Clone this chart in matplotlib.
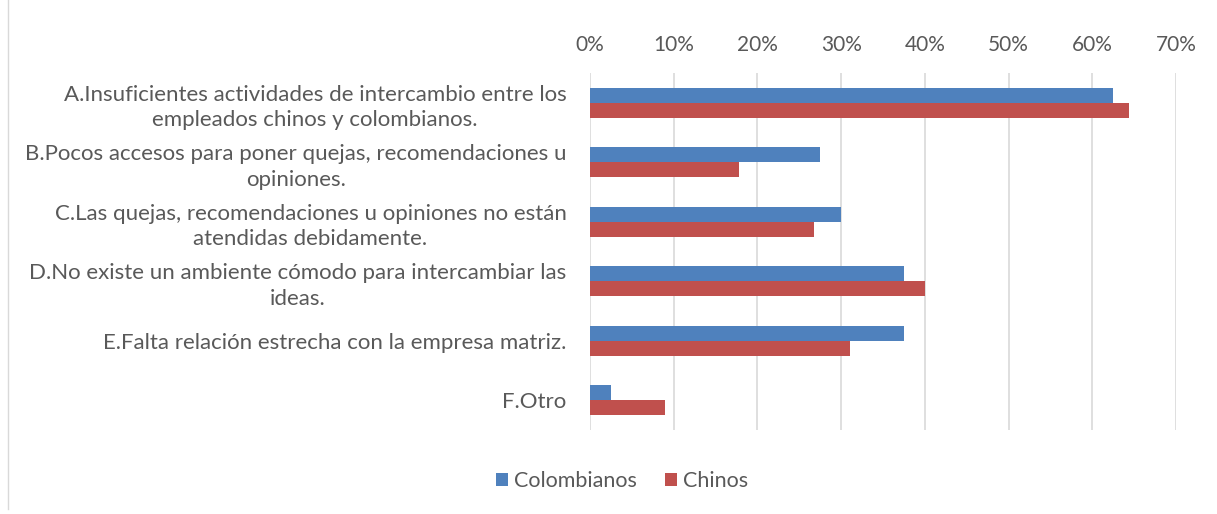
import numpy as np
import matplotlib
matplotlib.use("Agg")
import matplotlib.pyplot as plt
from matplotlib.lines import Line2D
from matplotlib.ticker import FuncFormatter

plt.rcParams['font.family'] = ['Lato', 'DejaVu Sans']

categories = [
    "A.Insuficientes actividades de intercambio entre los\nempleados chinos y colombianos.",
    "B.Pocos accesos para poner quejas, recomendaciones u\nopiniones.",
    "C.Las quejas, recomendaciones u opiniones no están\natendidas debidamente.",
    "D.No existe un ambiente cómodo para intercambiar las\nideas.",
    "E.Falta relación estrecha con la empresa matriz.",
    "F.Otro",
]
colombianos = [0.625, 0.275, 0.300, 0.375, 0.375, 0.025]
chinos = [0.644, 0.178, 0.267, 0.400, 0.311, 0.089]
x_ticks = [0, 0.1, 0.2, 0.3, 0.4, 0.5, 0.6, 0.7]

blue = "#4F81BD"
red = "#C0504D"
grey = "#595959"

fig = plt.figure(figsize=(12.17, 5.14), dpi=100)
ax = fig.add_axes([590 / 1217, 1 - 430 / 514, (1176 - 590) / 1217, (430 - 73) / 514])

y = np.arange(len(categories))
h = 0.25
ax.barh(y - h / 2, colombianos, height=h, color=blue, label="Colombianos", zorder=3)
ax.barh(y + h / 2, chinos, height=h, color=red, label="Chinos", zorder=3)

ax.set_ylim(len(categories) - 0.5, -0.5)
ax.set_xlim(0, 0.7)
ax.set_xticks(x_ticks)
ax.xaxis.set_major_formatter(FuncFormatter(lambda v, p: f"{v * 100:.0f}%"))
ax.xaxis.tick_top()
ax.tick_params(axis='x', length=0, pad=13, labelsize=15, labelcolor=grey)
ax.set_yticks(y)
ax.set_yticklabels(categories, fontsize=16, color=grey, multialignment='center',
                   linespacing=1.35)
ax.tick_params(axis='y', length=0, pad=17)
ax.grid(axis='x', color="#D9D9D9", linewidth=1.2, zorder=0)
for s in ax.spines.values():
    s.set_visible(False)

fig.legend(loc='center', bbox_to_anchor=(622 / 1217, 1 - 481 / 514), ncol=2,
           frameon=False, fontsize=15.5, labelcolor=grey, handlelength=0.55,
           handleheight=0.55, handletextpad=0.3, columnspacing=1.3)

fig.add_artist(Line2D([8 / 1217, 8 / 1217], [0.01, 1.0], color="#D9D9D9", linewidth=1))

fig.savefig("out.png", dpi=100)
